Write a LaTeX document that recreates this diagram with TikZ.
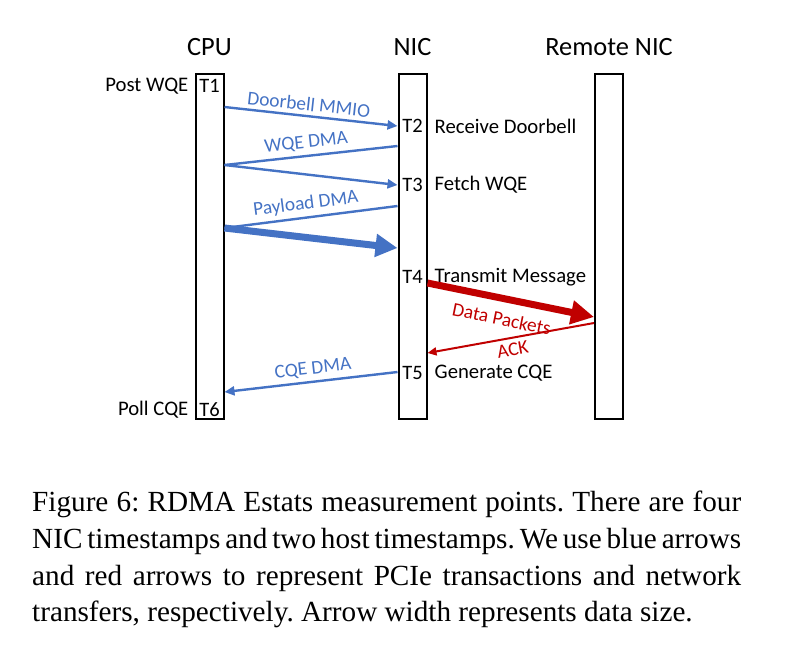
\documentclass[tikz,border=0pt]{standalone}
\usepackage{fontspec}
\setmainfont{Liberation Serif}
\newfontfamily\calibfont{Carlito}
\usetikzlibrary{
	positioning,
	calc,
	arrows.meta
}
\definecolor{PcieBlue}{RGB}{68,114,196}
\definecolor{NetRed}{RGB}{192,0,0}

\begin{document}
\begin{tikzpicture}[
	x=1pt, y=-1pt,
	lane/.style={draw, line width=2pt, minimum width=28pt, minimum height=345pt, inner sep=0pt},
	title/.style={font=\calibfont\fontsize{26.4}{30}\selectfont, inner sep=0pt},
	stamp/.style={font=\calibfont\fontsize{20.5}{23}\selectfont, inner sep=0pt},
	event/.style={font=\calibfont\fontsize{20.7}{23}\selectfont, inner sep=0pt},
	pcie/.style={draw=PcieBlue, line width=2.4pt},
	pciearrow/.style={pcie, -{Triangle[length=10pt,width=9pt]}},
	pciebulk/.style={draw=PcieBlue, line width=7pt, -{Triangle[length=22pt,width=22pt]}},
	netbulk/.style={draw=NetRed, line width=7pt, -{Triangle[length=23pt,width=23pt]}},
	netack/.style={draw=NetRed, line width=2pt, -{Triangle[length=9pt,width=8pt]}},
	tag/.style={font=\calibfont\fontsize{19.4}{21}\selectfont, sloped, inner sep=4pt},
	caption/.style={font=\frenchspacing\fontsize{29.2}{36}\selectfont, anchor=base west, inner sep=0pt}
]
	\useasboundingbox (0,0) rectangle (805,649);

	% lanes
	\node[lane] (cpu) at (209.5,246) {};
	\node[lane] (nic) at (412.5,246) {};
	\node[lane] (rnic) at (609,246) {};
	\node[title, above=17pt of cpu] {CPU};
	\node[title, above=17pt of nic] {NIC};
	\node[title, above=17pt of rnic] {Remote NIC};

	% timestamps
	\node[stamp] (t1) at (209.5,86) {T1};
	\node[stamp] (t2) at (412.5,126) {T2};
	\node[stamp] (t3) at (412.5,185) {T3};
	\node[stamp] (t4) at (412.5,277) {T4};
	\node[stamp] (t5) at (412.5,373) {T5};
	\node[stamp] (t6) at (209.5,410) {T6};

	\node[event, anchor=east] (post) at ($(cpu.west |- t1)+(-6,0)$) {Post WQE};
	\node[event, anchor=east] (poll) at ($(cpu.west |- t6)+(-6,0)$) {Poll CQE};
	\node[event, anchor=west] (recv) at ($(nic.east |- t2)+(7,0)$) {Receive Doorbell};
	\node[event, anchor=west] (fetch) at ($(nic.east |- t3)+(7,0)$) {Fetch WQE};
	\node[event, anchor=west] (xmit) at ($(nic.east |- t4)+(7,0)$) {Transmit Message};
	\node[event, anchor=west] (gen) at ($(nic.east |- t5)+(7,0)$) {Generate CQE};

	% end points on the lanes
	\coordinate (db) at (cpu.east |- 0,107);
	\coordinate (wqereq) at (nic.west |- 0,146);
	\coordinate (wqe) at (cpu.east |- 0,165);
	\coordinate (payreq) at (nic.west |- 0,206);
	\coordinate (pay) at (cpu.east |- 0,228);
	\coordinate (payend) at (nic.west |- 0,248);
	\coordinate (pkt) at (nic.east |- 0,283);
	\coordinate (pktend) at (rnic.west |- 0,317);
	\coordinate (ack) at (rnic.west |- 0,323);
	\coordinate (ackend) at (nic.east |- 0,353);
	\coordinate (cqe) at (nic.west |- 0,372);
	\coordinate (cqeend) at (cpu.east |- 0,392);

	% PCIe transactions
	\draw[pciearrow] (db) -- (nic.west |- t2) node[tag, pos=0.48, above, text=PcieBlue] {Doorbell MMIO};
	\draw[pcie] (wqereq) -- (wqe) node[tag, pos=0.52, above, text=PcieBlue] {WQE DMA};
	\draw[pciearrow] (wqe) -- (nic.west |- t3);
	\draw[pcie] (payreq) -- (pay) node[tag, pos=0.52, above, text=PcieBlue] {Payload DMA};
	\draw[pciebulk] (pay) -- (payend);
	\draw[pciearrow] (cqe) -- (cqeend) node[tag, pos=0.48, above, text=PcieBlue] {CQE DMA};

	% network transfers
	\draw[netbulk] (pkt) -- (pktend) node[tag, pos=0.47, below=6pt, text=NetRed] {Data Packets};
	\draw[netack] (ack) -- (ackend) node[tag, pos=0.5, below, text=NetRed] {ACK};

	% caption
	\node[caption] (cap1) at (32,511) {\makebox[709pt][s]{Figure 6: RDMA Estats measurement points. There are four}};
	\node[caption] (cap2) at (32,548) {\makebox[709pt][s]{NIC timestamps and two host timestamps. We use blue arrows}};
	\node[caption] (cap3) at (32,585) {\makebox[709pt][s]{and red arrows to represent PCIe transactions and network}};
	\node[caption] (cap4) at (32,621) {transfers, respectively. Arrow width represents data size.};

\end{tikzpicture}
\end{document}
